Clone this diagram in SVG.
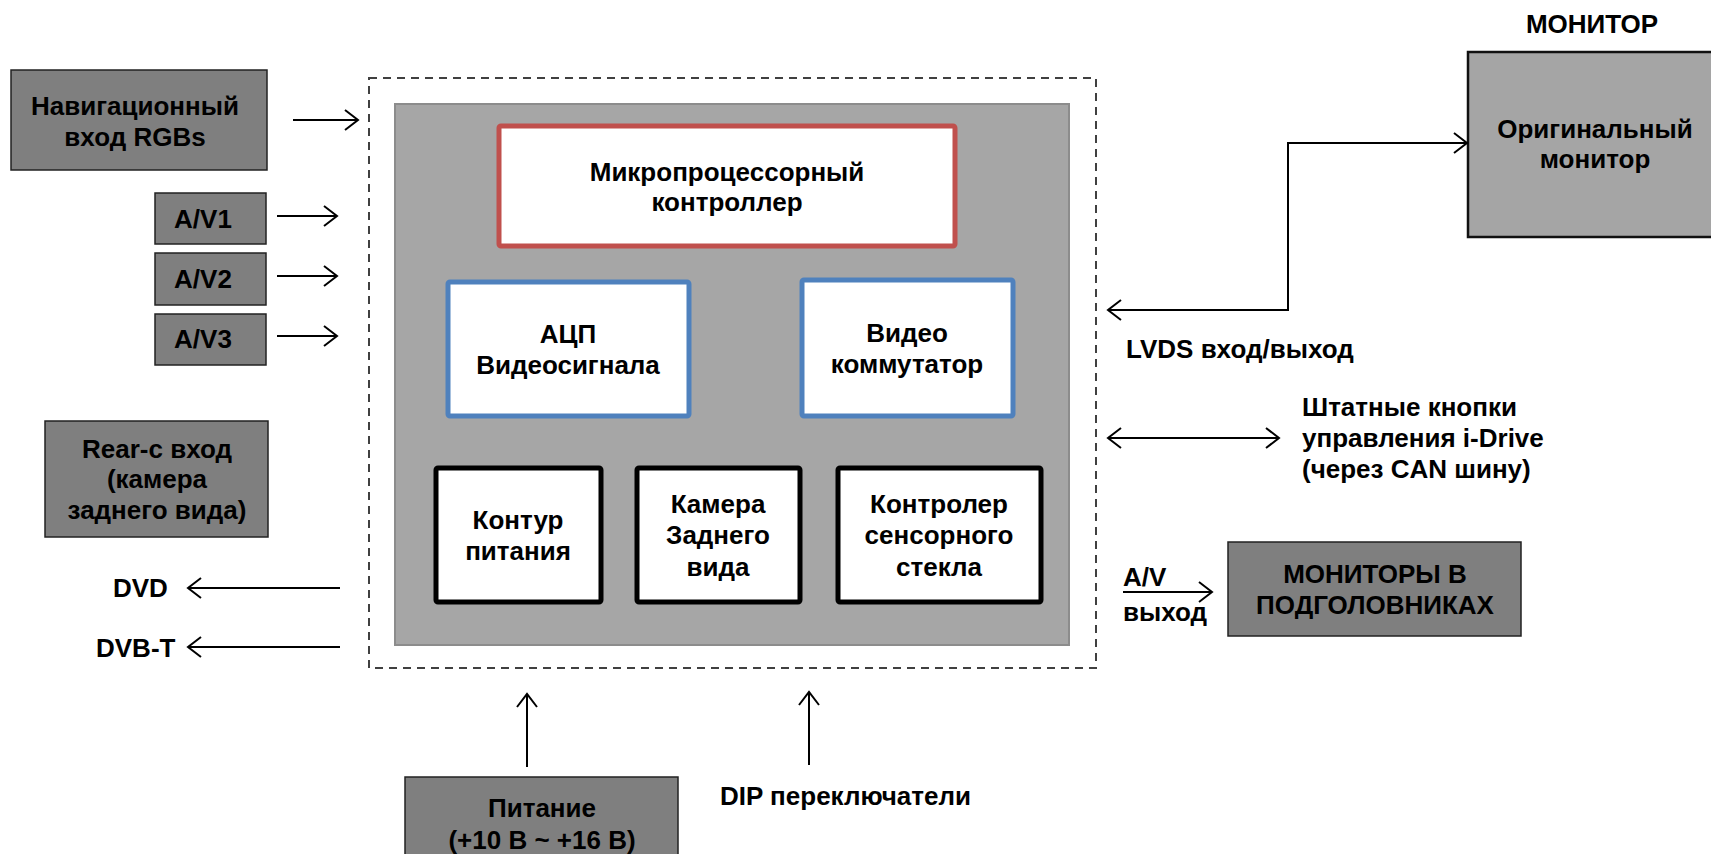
<svg xmlns="http://www.w3.org/2000/svg" width="1711" height="854" viewBox="0 0 1711 854">
<defs>
<marker id="ah" markerUnits="userSpaceOnUse" markerWidth="16" markerHeight="22" refX="13" refY="10" orient="auto-start-reverse" viewBox="-1 -1 16 22">
<path d="M0,0 L13,10 L0,20" fill="none" stroke="#000" stroke-width="2"/>
</marker>
<style>
text{font-family:"Liberation Sans",Arial,sans-serif;font-weight:bold;font-size:26px;fill:#000}
.c{text-anchor:middle}
.dark{fill:#7f7f7f;stroke:#222;stroke-width:1.5}
.light{fill:#a5a5a5;stroke:#111;stroke-width:2.5}
.wb{fill:#fff;stroke-width:5}
.conn line,.conn polyline{stroke:#000;stroke-width:2;fill:none}
</style>
</defs>
<rect width="1711" height="854" fill="#fff"/>

<g id="module">
<rect x="369" y="78" width="727" height="590" fill="none" stroke="#404040" stroke-width="2" stroke-dasharray="8 6"/>
<rect x="395" y="104" width="674" height="541" fill="#a6a6a6" stroke="#8c8c8c" stroke-width="2"/>
</g>

<g id="mcu">
<rect class="wb" x="499" y="126" width="456" height="120" rx="2" stroke="#c0504d"/>
<text class="c" x="727" y="181">Микропроцессорный</text>
<text class="c" x="727" y="211">контроллер</text>
</g>
<g id="adc">
<rect class="wb" x="448" y="282" width="241" height="134" rx="2" stroke="#4f81bd"/>
<text class="c" x="568" y="343">АЦП</text>
<text class="c" x="568" y="374">Видеосигнала</text>
</g>
<g id="vswitch">
<rect class="wb" x="802" y="280" width="211" height="136" rx="2" stroke="#4f81bd"/>
<text class="c" x="907" y="342">Видео</text>
<text class="c" x="907" y="373">коммутатор</text>
</g>
<g id="power-circuit">
<rect class="wb" x="436" y="468" width="165" height="134" rx="2" stroke="#000"/>
<text class="c" x="518" y="529">Контур</text>
<text class="c" x="518" y="560">питания</text>
</g>
<g id="rear-camera">
<rect class="wb" x="637" y="468" width="163" height="134" rx="2" stroke="#000"/>
<text class="c" x="718" y="513">Камера</text>
<text class="c" x="718" y="544">Заднего</text>
<text class="c" x="718" y="576">вида</text>
</g>
<g id="touch-ctrl">
<rect class="wb" x="838" y="468" width="203" height="134" rx="2" stroke="#000"/>
<text class="c" x="939" y="513">Контролер</text>
<text class="c" x="939" y="544">сенсорного</text>
<text class="c" x="939" y="576">стекла</text>
</g>

<g id="nav">
<rect class="dark" x="11" y="70" width="256" height="100"/>
<text class="c" x="135" y="115">Навигационный</text>
<text class="c" x="135" y="146">вход RGBs</text>
</g>
<g id="av1">
<rect class="dark" x="155" y="193" width="111" height="51"/>
<text class="c" x="203" y="228">A/V1</text>
</g>
<g id="av2">
<rect class="dark" x="155" y="253" width="111" height="52"/>
<text class="c" x="203" y="288">A/V2</text>
</g>
<g id="av3">
<rect class="dark" x="155" y="314" width="111" height="51"/>
<text class="c" x="203" y="348">A/V3</text>
</g>
<g id="rearc">
<rect class="dark" x="45" y="421" width="223" height="116"/>
<text class="c" x="157" y="458">Rear-c вход</text>
<text class="c" x="157" y="488">(камера</text>
<text class="c" x="157" y="519">заднего вида)</text>
</g>
<g id="dvd">
<text x="113" y="597">DVD</text>
</g>
<g id="dvbt">
<text x="96" y="657">DVB-T</text>
</g>

<g id="monitor">
<text class="c" x="1592" y="33">МОНИТОР</text>
<rect class="light" x="1468" y="52" width="250" height="185"/>
<text class="c" x="1595" y="138">Оригинальный</text>
<text class="c" x="1595" y="168">монитор</text>
</g>
<g id="lvds-label">
<text x="1126" y="358">LVDS вход/выход</text>
</g>
<g id="idrive">
<text x="1302" y="416">Штатные кнопки</text>
<text x="1302" y="447">управления i-Drive</text>
<text x="1302" y="478">(через CAN шину)</text>
</g>
<g id="headrest">
<rect class="dark" x="1228" y="542" width="293" height="94"/>
<text class="c" x="1375" y="583">МОНИТОРЫ В</text>
<text class="c" x="1375" y="614">ПОДГОЛОВНИКАХ</text>
</g>
<g id="avout">
<text x="1123" y="586">A/V</text>
<text x="1123" y="621">выход</text>
</g>
<g id="power">
<rect class="dark" x="405" y="777" width="273" height="90"/>
<text class="c" x="542" y="817">Питание</text>
<text class="c" x="542" y="849">(+10 В ~ +16 В)</text>
</g>
<g id="dip">
<text x="720" y="805">DIP переключатели</text>
</g>

<g id="connectors" class="conn">
<line x1="293" y1="120" x2="358" y2="120" marker-end="url(#ah)"/>
<line x1="277" y1="216" x2="337" y2="216" marker-end="url(#ah)"/>
<line x1="277" y1="276" x2="337" y2="276" marker-end="url(#ah)"/>
<line x1="277" y1="336" x2="337" y2="336" marker-end="url(#ah)"/>
<line x1="340" y1="588" x2="188" y2="588" marker-end="url(#ah)"/>
<line x1="340" y1="647" x2="188" y2="647" marker-end="url(#ah)"/>
<polyline points="1108,310 1288,310 1288,143 1467,143" marker-start="url(#ah)" marker-end="url(#ah)"/>
<line x1="1108" y1="438" x2="1279" y2="438" marker-start="url(#ah)" marker-end="url(#ah)"/>
<line x1="1123" y1="592" x2="1212" y2="592" marker-end="url(#ah)"/>
<line x1="527" y1="767" x2="527" y2="694" marker-end="url(#ah)"/>
<line x1="809" y1="765" x2="809" y2="692" marker-end="url(#ah)"/>
</g>
</svg>
